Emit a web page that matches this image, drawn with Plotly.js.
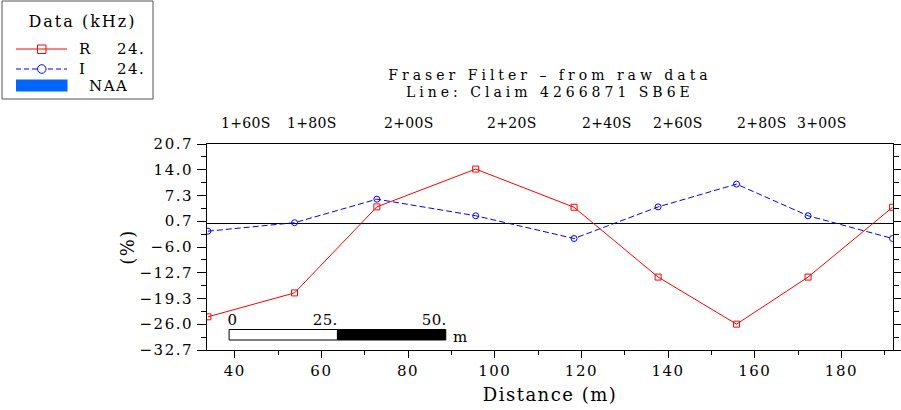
<!DOCTYPE html>
<html><head><meta charset="utf-8">
<script src="https://cdn.plot.ly/plotly-3.0.1.min.js"></script>
<style>
html,body{margin:0;padding:0;background:#fff;}
#chart{width:901px;height:410px;}
svg text{letter-spacing:1.5px;}
.gtitle{letter-spacing:4px !important;}
g.annotation[data-index="0"] text{letter-spacing:4px;}
g.annotation[data-index="1"] text, g.annotation[data-index="2"] text, g.annotation[data-index="3"] text,
g.annotation[data-index="4"] text, g.annotation[data-index="5"] text, g.annotation[data-index="6"] text,
g.annotation[data-index="7"] text, g.annotation[data-index="8"] text,
g.annotation[data-index="9"] text, g.annotation[data-index="10"] text, g.annotation[data-index="11"] text{letter-spacing:0.3px;}
g.annotation[data-index="13"] text{letter-spacing:2px;}
</style></head><body><div id="chart"></div>
<script>
// ---- data ----
const distance = [33.8, 53.8, 72.8, 95.6, 118.3, 137.7, 155.8, 172.3, 191.8];
const rValues  = [-24.1, -17.9, 4.4, 14.2, 4.3, -13.8, -26.0, -13.8, 4.3];
const iValues  = [-1.9, 0.3, 6.4, 2.1, -3.8, 4.4, 10.3, 2.1, -3.8];
const yTickVals = [20.7, 14.0, 7.3, 0.7, -6.0, -12.7, -19.3, -26.0, -32.7];
const yTickText = ['20.7', '14.0', '7.3', '0.7', '\u22126.0', '\u221212.7', '\u221219.3', '\u221226.0', '\u221232.7'];
const yMinorVals = [17.35, 10.65, 4.0, -2.65, -9.35, -16.0, -22.65, -29.35];
const stationLabels = ['1+60S', '1+80S', '2+00S', '2+20S', '2+40S', '2+60S', '2+80S', '3+00S'];
const stationPos = [42.5, 57.8, 80.1, 103.9, 125.8, 142.2, 161.6, 175.4];
const scaleStart = 38.7;
const scaleMarks = [0, 25, 50];
const scaleText = ['0', '25.', '50.'];
const scaleUnit = 'm';
const legendTitle = 'Data (kHz)';
const legendNames = ['R', 'I', 'NAA'];
const legendFreq = ['24.', '24.', ''];
const titleLine1 = 'Fraser Filter \u2013 from raw data';
const titleLine2 = 'Line: Claim 4266871 SB6E';

// ---- layout helpers (pixel -> paper) ----
const W = 901, H = 410, M = {l:207, r:8, t:144, b:60};
const PW = W - M.l - M.r, PH = H - M.t - M.b;
const px = x => (x - M.l) / PW;
const py = y => (H - M.b - y) / PH;

const RED = '#ff0000', BLUE = '#0000ff';

const traces = [
  {x: distance, y: rValues, name: 'R', type: 'scatter', mode: 'lines+markers',
   line: {color: RED, width: 1},
   marker: {symbol: 'square-open', size: 6, color: RED, line: {width: 1, color: RED}}},
  {x: distance, y: iValues, name: 'I', type: 'scatter', mode: 'lines+markers',
   line: {color: BLUE, width: 1, dash: '6px,3px'},
   marker: {symbol: 'circle-open', size: 6, color: BLUE, line: {width: 1, color: BLUE}}}
];

const shapes = [];
const annotations = [];

// [0] title second line
annotations.push({text: titleLine2, xref: 'paper', yref: 'paper', x: 0.5, y: py(92),
  xanchor: 'center', yanchor: 'middle', showarrow: false, font: {size: 14}});

// [1..8] station labels
stationLabels.forEach((s, i) => annotations.push({text: s, xref: 'x', yref: 'paper',
  x: stationPos[i], y: py(123), xanchor: 'center', yanchor: 'middle', showarrow: false, font: {size: 14}}));

// scale bar
const sEnd = scaleStart + scaleMarks[2];
const sMid = scaleStart + scaleMarks[1];
shapes.push({type: 'rect', xref: 'x', yref: 'paper', x0: scaleStart, x1: sMid, y0: py(340), y1: py(329.5),
  line: {color: '#000', width: 1}, fillcolor: '#fff'});
shapes.push({type: 'rect', xref: 'x', yref: 'paper', x0: sMid, x1: sEnd, y0: py(340), y1: py(329.5),
  line: {color: '#000', width: 1}, fillcolor: '#000'});
// [9..11] scale labels
scaleMarks.forEach((m, i) => annotations.push({text: scaleText[i], xref: 'x', yref: 'paper',
  x: scaleStart + m, y: py(320), xanchor: i === 0 ? 'left' : 'right', yanchor: 'middle', showarrow: false,
  xshift: i === 0 ? -4 : 4}));
// [12] unit
annotations.push({text: scaleUnit, xref: 'x', yref: 'paper', x: sEnd, y: py(337), xanchor: 'left',
  yanchor: 'middle', showarrow: false, xshift: 5});

// legend box
shapes.push({type: 'rect', xref: 'paper', yref: 'paper', x0: px(2), x1: px(153), y0: py(99), y1: py(1),
  line: {color: '#555', width: 1}, fillcolor: 'rgba(0,0,0,0)'});
// [13] legend title
annotations.push({text: legendTitle, xref: 'paper', yref: 'paper', x: px(82), y: py(21),
  xanchor: 'center', yanchor: 'middle', showarrow: false, font: {size: 16}});
// R
shapes.push({type: 'line', xref: 'paper', yref: 'paper', x0: px(16), x1: px(67), y0: py(49), y1: py(49),
  line: {color: RED, width: 1}});
shapes.push({type: 'rect', xref: 'paper', yref: 'paper', x0: px(37.5), x1: px(46), y0: py(53.5), y1: py(45),
  line: {color: RED, width: 1}, fillcolor: 'rgba(0,0,0,0)'});
// I
shapes.push({type: 'line', xref: 'paper', yref: 'paper', x0: px(16), x1: px(67), y0: py(69), y1: py(69),
  line: {color: BLUE, width: 1, dash: '5px,3px'}});
shapes.push({type: 'circle', xref: 'paper', yref: 'paper', x0: px(37.5), x1: px(46), y0: py(73.3), y1: py(64.7),
  line: {color: BLUE, width: 1}, fillcolor: '#fff'});
// NAA
shapes.push({type: 'rect', xref: 'paper', yref: 'paper', x0: px(16), x1: px(67.5), y0: py(91.5), y1: py(79.5),
  line: {width: 0}, fillcolor: '#0066ff'});
const legendY = [49, 69, 86];
legendNames.forEach((n, i) => {
  annotations.push({text: n, xref: 'paper', yref: 'paper', x: px(i === 2 ? 87 : 77), y: py(legendY[i]),
    xanchor: 'left', yanchor: 'middle', showarrow: false});
  if (legendFreq[i]) annotations.push({text: legendFreq[i], xref: 'paper', yref: 'paper', x: px(147),
    y: py(legendY[i]), xanchor: 'right', yanchor: 'middle', showarrow: false});
});

const layout = {
  width: W, height: H, margin: M,
  paper_bgcolor: '#fff', plot_bgcolor: '#fff',
  font: {family: 'DejaVu Serif', size: 15, color: '#000'},
  showlegend: false,
  title: {text: titleLine1, x: 0.5, xref: 'paper', xanchor: 'center', y: 1 - 75 / H, yref: 'container',
    yanchor: 'middle', font: {size: 14, color: '#000'}},
  xaxis: {range: [33.6, 191.9], tick0: 0, dtick: 20, ticks: 'outside', ticklen: 7, tickwidth: 1,
    tickcolor: '#000', showline: true, linecolor: '#000', linewidth: 1, mirror: true,
    showgrid: false, zeroline: false,
    minor: {dtick: 10, ticks: 'outside', ticklen: 4, tickcolor: '#000', showgrid: false},
    title: {text: 'Distance (m)', standoff: 9}, automargin: false},
  yaxis: {range: [-32.7, 20.7], tickmode: 'array', tickvals: yTickVals, ticktext: yTickText,
    ticks: 'outside', ticklen: 9, tickwidth: 1, tickcolor: '#000', showline: true, linecolor: '#000',
    linewidth: 1, mirror: 'ticks', showgrid: false, zeroline: true, zerolinecolor: '#000', zerolinewidth: 1,
    minor: {tickmode: 'array', tickvals: yMinorVals, ticks: 'outside', ticklen: 5, tickcolor: '#000', showgrid: false},
    ticklabelstandoff: 1,
    title: {text: '(%)', standoff: 0}, automargin: false},
  shapes: shapes,
  annotations: annotations
};

Plotly.newPlot('chart', traces, layout, {staticPlot: true, displayModeBar: false});
</script></body></html>
